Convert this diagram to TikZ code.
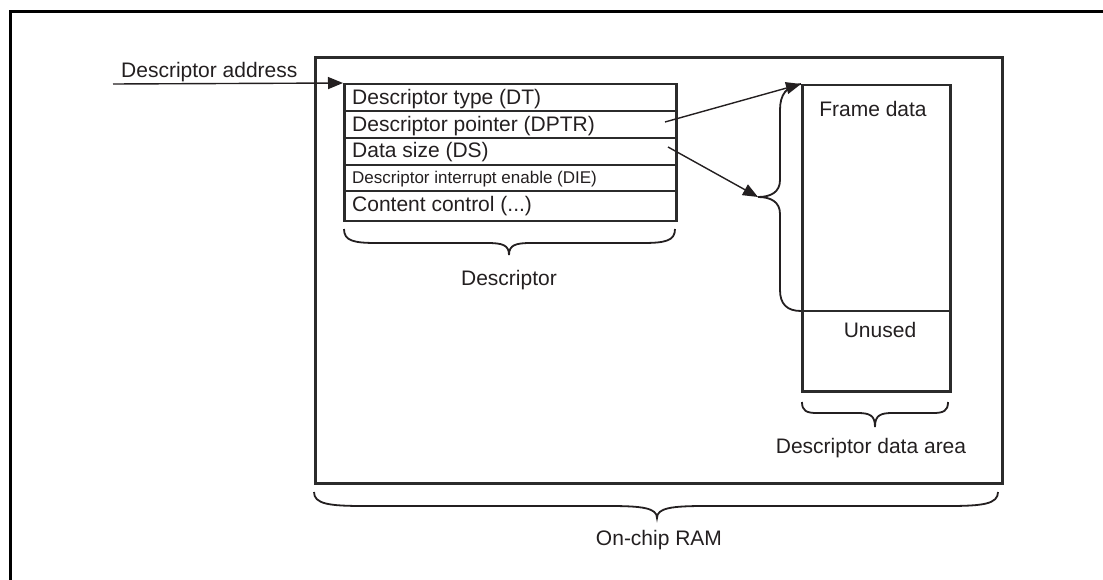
\documentclass[tikz,border=0pt]{standalone}
\usepackage{fontspec}
\setmainfont{Liberation Sans}
\usetikzlibrary{arrows.meta}
\definecolor{ink}{HTML}{2B2B2B}
\definecolor{txt}{HTML}{231F20}
\newcommand{\hbr}[8]{%
  (#1,#4) .. controls (#1,{#5-2}) and ({#1+#7*0.3},#5) .. ({#1+#7},#5)
  -- ({#3-#8},#5) .. controls ({#3-#8*0.3},#5) and (#3,{#5+2}) .. (#3,#6)
  .. controls (#3,{#5+2}) and ({#3+#8*0.3},#5) .. ({#3+#8},#5)
  -- ({#2-#7},#5) .. controls ({#2-#7*0.3},#5) and (#2,{#5-2}) .. (#2,#4)}
\begin{document}
\begin{tikzpicture}[x=1pt,y=-1pt,
  font=\fontsize{21}{25}\selectfont,
  lbl/.style={text=txt,inner sep=0pt,anchor=base},
  rowtxt/.style={text=txt,inner sep=0pt,anchor=base west},
  box/.style={draw=ink,line width=2.5pt,inner sep=0pt,anchor=north west},
  sep/.style={draw=ink,line width=2.2pt},
  bracestyle/.style={draw=txt,line width=1.8pt},
  ptr/.style={draw=txt,line width=1.4pt,-{Triangle[length=15pt,width=12pt]}}]
\useasboundingbox (0,0) rectangle (1103,580);
% partial outer frame
\draw[line width=3pt,black] (10,580) -- (10,12) -- (1103,12);
% on-chip RAM box
\node[box,line width=2.9pt,minimum width=687pt,minimum height=426pt] (ram) at (314,56) {};
% descriptor box
\node[box,minimum width=332pt,minimum height=137pt] (desc) at (343,83) {};
\draw[sep] (343,111) -- (675,111);
\draw[sep] (343,138) -- (675,138);
\draw[sep] (343,165) -- (675,165);
\draw[sep] (343,191) -- (675,191);
\node[rowtxt] (dt) at (352,105) {Descriptor type (DT)};
\node[rowtxt] (dptr) at (352,132) {Descriptor pointer (DPTR)};
\node[rowtxt] (ds) at (352,158) {Data size (DS)};
\node[rowtxt,font=\fontsize{17}{20}\selectfont] (die) at (352,184) {Descriptor interrupt enable (DIE)};
\node[rowtxt] (cc) at (352,212) {Content control (...)};
% data area box
\node[box,minimum width=148pt,minimum height=306pt] (data) at (801,84) {};
\draw[sep] (801,311) -- (949,311);
\node[lbl] (frame) at (873,117) {Frame data};
\node[lbl] (unused) at (880,337) {Unused};
% descriptor address
\node[rowtxt] (addr) at (121,78) {Descriptor address};
\coordinate (addrstart) at (113,84);
\draw[ptr] (addrstart) -- (desc.north west);
% frame-data brace
\coordinate (btip) at (758,197);
\draw[bracestyle] (data.north west) .. controls (786,86) and (780,95) .. (780,110)
  -- (780,180) .. controls (780,192) and (771,197) .. (btip)
  .. controls (771,197) and (780,202) .. (780,214)
  -- (780,290) .. controls (780,304) and (787,311) .. (801,311);
% pointers
\coordinate (p1) at (665,122);
\coordinate (p2) at (668,147);
\draw[ptr] (p1) -- (data.north west);
\draw[ptr] (p2) -- (btip);
% braces and labels
\draw[bracestyle] \hbr{344}{675}{509}{229}{243}{255}{33}{22};
\node[lbl] (desclbl) at (509,285) {Descriptor};
\draw[bracestyle] \hbr{802}{948}{875}{402}{413}{427}{15}{18};
\node[lbl] (datalbl) at (871,453) {Descriptor data area};
\draw[bracestyle] \hbr{314}{998}{657}{492}{506}{518}{50}{48};
\node[lbl] (ramlbl) at (659,545) {On-chip RAM};
\end{tikzpicture}
\end{document}
